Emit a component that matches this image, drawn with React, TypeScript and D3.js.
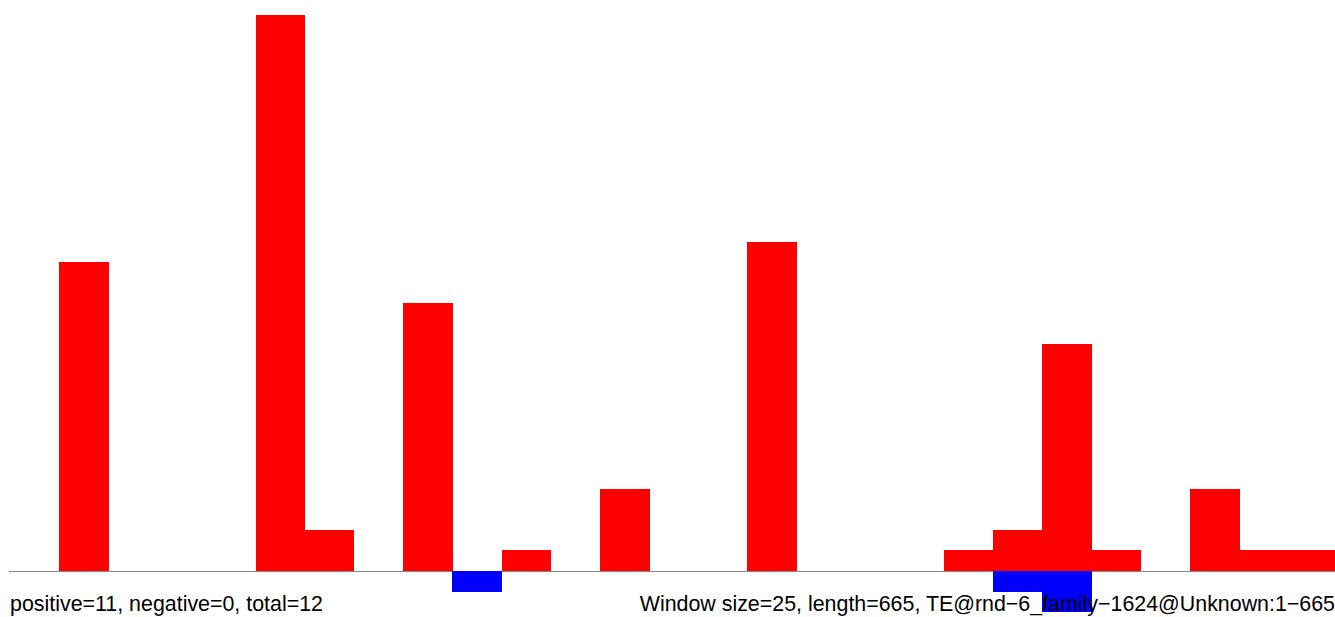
import React from "react";
import * as d3 from "d3";

const windows = d3.range(27);
const positiveCounts = [0, 15, 0, 0, 0, 27, 2, 0, 13, 0, 1, 0, 4, 0, 0, 16, 0, 0, 0, 1, 2, 11, 1, 0, 4, 1, 1];
const negativeCounts = [0, 0, 0, 0, 0, 0, 0, 0, 0, -1, 0, 0, 0, 0, 0, 0, 0, 0, 0, 0, -1, -2, 0, 0, 0, 0, 0];
const leftLabel = "positive=11, negative=0, total=12";
const rightLabel = "Window size=25, length=665, TE@rnd\u22126_family\u22121624@Unknown:1\u2212665";

const W = 1335;
const H = 617;

export default function App() {
  const x0 = 9.8;
  const step = 49.17;
  const x = d3
    .scaleBand<number>()
    .domain(windows)
    .range([x0, x0 + step * windows.length])
    .paddingInner(0)
    .paddingOuter(0);
  const y = d3.scaleLinear().domain([0, 27]).range([571, 15]);
  const font = "'Liberation Sans', Arial, Helvetica, sans-serif";

  return (
    <svg
      width={W}
      height={H}
      style={{ position: "absolute", left: 0, top: 0, background: "#fff" }}
    >
      <line x1={9} x2={W} y1={571.5} y2={571.5} stroke="#888888" strokeWidth={1} />
      <g shapeRendering="crispEdges">
        {windows.map((w) =>
          positiveCounts[w] > 0 ? (
            <rect
              key={"p" + w}
              x={x(w)}
              width={x.bandwidth() + 0.5}
              y={y(positiveCounts[w])}
              height={y(0) - y(positiveCounts[w])}
              fill="#ff0000"
            />
          ) : null
        )}
        {windows.map((w) =>
          negativeCounts[w] < 0 ? (
            <rect
              key={"n" + w}
              x={x(w)}
              width={x.bandwidth() + 0.5}
              y={y(0)}
              height={y(negativeCounts[w]) - y(0)}
              fill="#0000ff"
            />
          ) : null
        )}
      </g>
      <text x={10} y={611} fontFamily={font} fontSize={21.4} fill="#000">
        {leftLabel}
      </text>
      <text x={1335} y={611} textAnchor="end" fontFamily={font} fontSize={21.4} fill="#000">
        {rightLabel}
      </text>
    </svg>
  );
}
